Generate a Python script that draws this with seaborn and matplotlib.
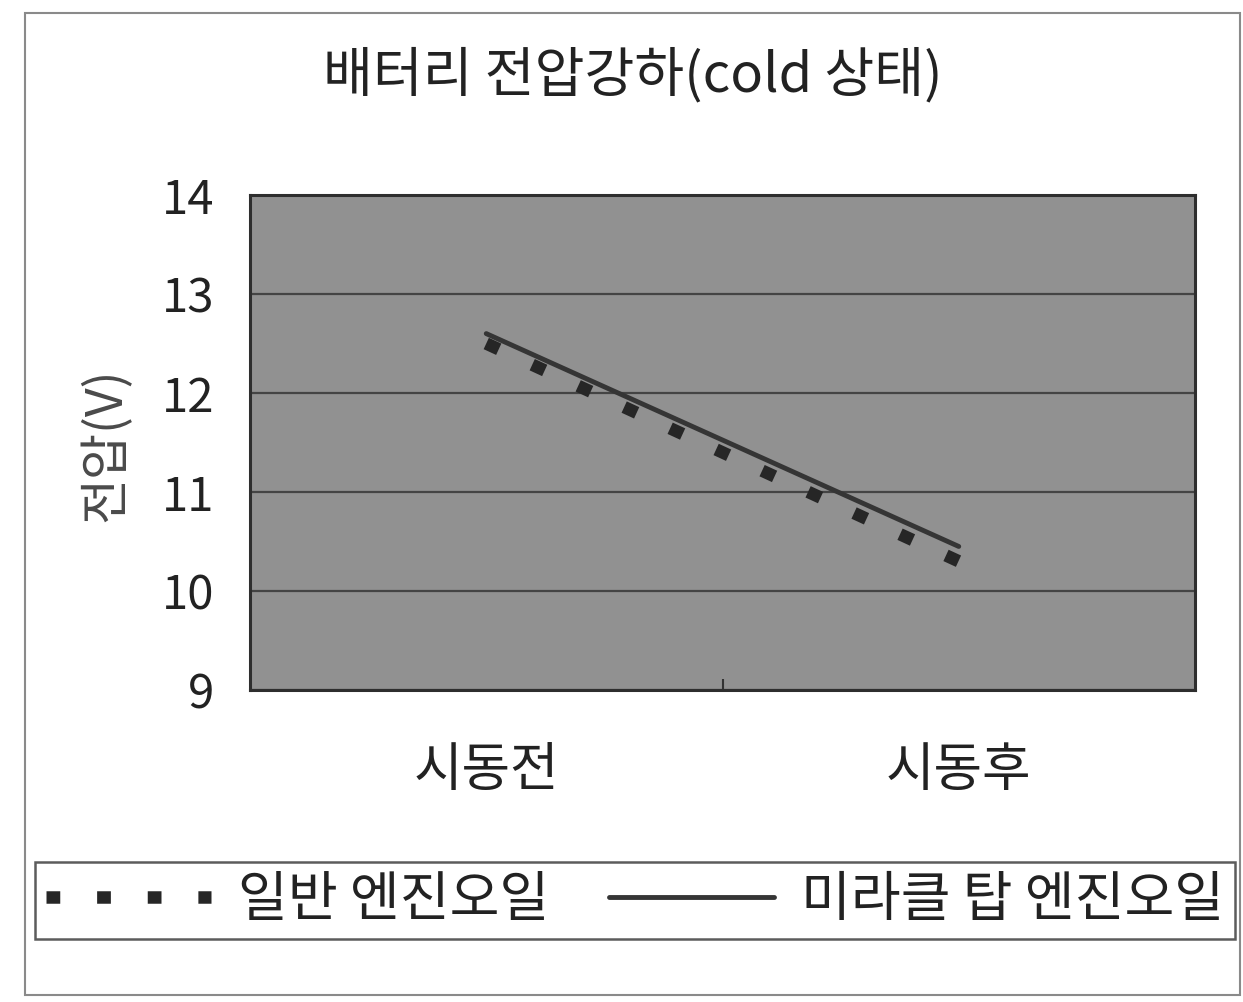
import seaborn as sns
import matplotlib.pyplot as plt
import pandas as pd
from matplotlib.patches import Rectangle

# data
categories = ["시동전", "시동후"]
normal_oil = [12.5, 10.3]      # 일반 엔진오일
miracle_oil = [12.6, 10.45]    # 미라클 탑 엔진오일
labels = ["일반 엔진오일", "미라클 탑 엔진오일"]
y_ticks = [9, 10, 11, 12, 13, 14]

df = pd.DataFrame({"stage": categories, "normal": normal_oil, "miracle": miracle_oil})

sns.set_theme(style="white")
plt.rcParams["font.family"] = ["Noto Sans CJK KR", "DejaVu Sans"]

W, H = 1243, 1002
fig = plt.figure(figsize=(W / 100, H / 100), dpi=100)
ax = fig.add_axes([250 / W, 1 - 690 / H, 945 / W, 495 / H])
ax.set_facecolor("#919191")

sns.lineplot(data=df, x="stage", y="normal", ax=ax, color="#262626",
             linewidth=9, linestyle=(0, (1.1, 2.95)), label=labels[0], legend=False)
sns.lineplot(data=df, x="stage", y="miracle", ax=ax, color="#353535",
             linewidth=3.5, label=labels[1], legend=False)

ax.set_xlim(-0.5, 1.5)
ax.set_ylim(9, 14)
ax.set_yticks(y_ticks)
ax.set_xticks([0, 1])
ax.set_xticklabels(categories)
ax.set_xticks([0.5], minor=True)
ax.tick_params(axis="x", which="major", length=0, pad=38, labelsize=38, labelcolor="#222222")
ax.tick_params(axis="x", which="minor", direction="in", length=8, width=1.5, color="#333333", bottom=True)
ax.tick_params(axis="y", length=0, pad=26, labelsize=34, labelcolor="#222222")
ax.set_xlabel("")
ax.set_ylabel("")
ax.yaxis.grid(True, color="#444444", linewidth=1.6)
ax.set_axisbelow(True)
for s in ax.spines.values():
    s.set_color("#2e2e2e")
    s.set_linewidth(2.2)

fig.text(633 / W, 1 - 76 / H, "배터리 전압강하(cold 상태)", fontsize=39,
         ha="center", va="center", color="#222222")
fig.text(106 / W, 1 - 445 / H, "전압(V)", fontsize=36, rotation=90,
         ha="center", va="center", color="#4a4a4a")

handles = ax.get_lines()[:2]
leg = fig.legend(handles, labels, loc="center",
                 bbox_to_anchor=(35 / W, 1 - 943 / H, 1200 / W, 85 / H),
                 mode="expand", ncol=2, fontsize=39, handlelength=3.05,
                 handletextpad=0.5, columnspacing=0.45, borderpad=0.2,
                 borderaxespad=0, fancybox=False, frameon=True)
leg.get_frame().set_edgecolor("#333333")
leg.get_frame().set_linewidth(1.8)
for t in leg.get_texts():
    t.set_color("#222222")

fig.add_artist(Rectangle((25 / W, 7 / H), 1215 / W, 982 / H, transform=fig.transFigure,
                         fill=False, edgecolor="#8a8a8a", linewidth=1.5))

plt.savefig("out.png", dpi=100)
